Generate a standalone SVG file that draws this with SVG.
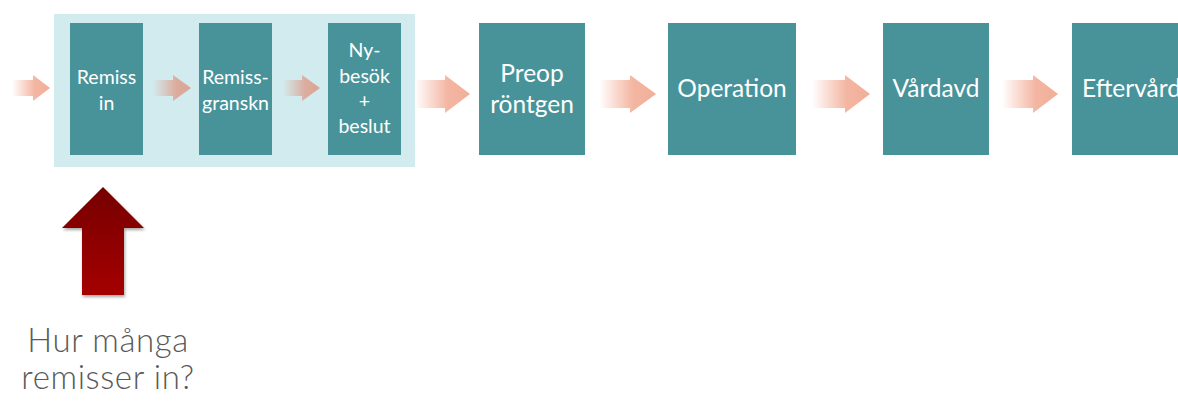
<svg xmlns="http://www.w3.org/2000/svg" width="1178" height="403" viewBox="0 0 1178 403">
<defs>
<style>
.box{fill:#48939A}
.t{fill:#FFFFFF;font-family:Lato,"Open Sans",sans-serif;text-anchor:middle}
.s{font-size:19.5px}
.l{font-size:24.5px}
.q{fill:#595959;font-family:Lato,"Open Sans",sans-serif;font-weight:300;font-size:33px;letter-spacing:0.6px;text-anchor:middle}
</style>
<linearGradient id="ga" x1="0" y1="0" x2="1" y2="0">
<stop offset="0" stop-color="#F4A891" stop-opacity="0"/>
<stop offset="0.6" stop-color="#F2AE98" stop-opacity="0.9"/>
<stop offset="1" stop-color="#F2AE98"/>
</linearGradient>
<linearGradient id="gs" x1="0" y1="0" x2="1" y2="0">
<stop offset="0" stop-color="#E0A494" stop-opacity="0"/>
<stop offset="0.6" stop-color="#DCA696" stop-opacity="0.9"/>
<stop offset="1" stop-color="#DCA393"/>
</linearGradient>
<linearGradient id="gr" x1="0" y1="0" x2="0" y2="1">
<stop offset="0" stop-color="#760000"/>
<stop offset="1" stop-color="#A50202"/>
</linearGradient>
<filter id="sh" x="-20%" y="-10%" width="140%" height="130%">
<feDropShadow dx="1" dy="2" stdDeviation="1.5" flood-color="#000" flood-opacity="0.35"/>
</filter>
</defs>
<rect width="1178" height="403" fill="#FFFFFF"/>
<rect id="panel" x="54" y="14" width="361" height="153" fill="#D2EBEE"/>
<g id="connectors">
<path d="M12,80 H33 V75 L50,88 L33,101 V96 H12 Z" fill="url(#ga)"/>
<path d="M153,80 H173 V75 L191,88 L173,101 V96 H153 Z" fill="url(#gs)"/>
<path d="M283,80 H302 V75 L320,88 L302,101 V96 H283 Z" fill="url(#gs)"/>
<path d="M415,80 H445 V75 L470,94 L445,113 V108 H415 Z" fill="url(#ga)"/>
<path d="M599,80 H630 V75 L656,94 L630,113 V108 H599 Z" fill="url(#ga)"/>
<path d="M812,80 H845 V75 L870,94 L845,113 V108 H812 Z" fill="url(#ga)"/>
<path d="M1002,80 H1033 V75 L1058,94 L1033,113 V108 H1002 Z" fill="url(#ga)"/>
<path id="red-arrow" d="M103,187 L144,228 H124 V295 H82 V228 H62 Z" fill="url(#gr)" filter="url(#sh)"/>
</g>
<g id="n1"><rect class="box" x="70" y="23" width="73" height="132"/><text class="t s" x="106.5" y="84">Remiss</text><text class="t s" x="106.5" y="110">in</text></g>
<g id="n2"><rect class="box" x="199" y="23" width="73" height="132"/><text class="t s" x="235.5" y="84">Remiss-</text><text class="t s" x="235.5" y="110">granskn</text></g>
<g id="n3"><rect class="box" x="328" y="23" width="73" height="132"/><text class="t s" x="364.5" y="57">Ny-</text><text class="t s" x="364.5" y="83">besök</text><text class="t s" x="364.5" y="108">+</text><text class="t s" x="364.5" y="133">beslut</text></g>
<g id="n4"><rect class="box" x="479" y="23" width="106" height="132"/><text class="t l" x="532" y="82">Preop</text><text class="t l" x="532" y="113">röntgen</text></g>
<g id="n5"><rect class="box" x="668" y="23" width="128" height="132"/><text class="t l" x="732" y="97">Operation</text></g>
<g id="n6"><rect class="box" x="883" y="23" width="106" height="132"/><text class="t l" x="936" y="97">Vårdavd</text></g>
<g id="n7"><rect class="box" x="1072" y="23" width="110" height="132"/><text class="t l" x="1082" y="97" style="text-anchor:start">Eftervård</text></g>
<g id="question"><text class="q" x="108" y="352">Hur många</text><text class="q" x="108" y="389">remisser in?</text></g>
</svg>
